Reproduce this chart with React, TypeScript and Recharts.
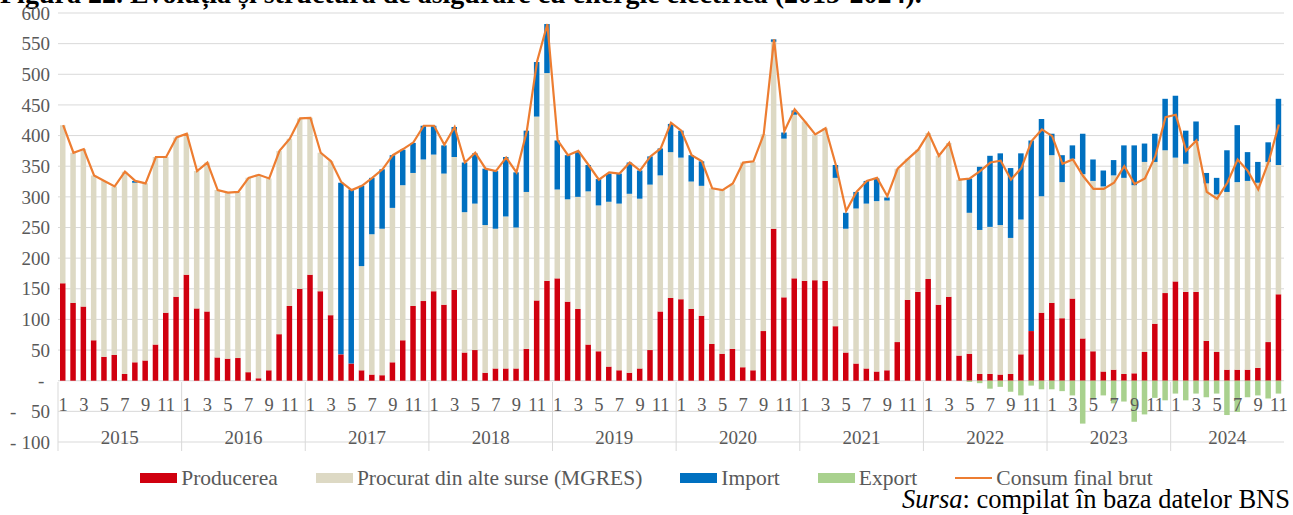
import React from "react";
import {
  ComposedChart,
  Bar,
  Line,
  XAxis,
  YAxis,
  CartesianGrid,
} from "recharts";

const years = [2015, 2016, 2017, 2018, 2019, 2020, 2021, 2022, 2023, 2024];

// GWh / month (Jan 2015 .. Nov 2024)
const production = [
  159, 127, 121, 66, 39, 42, 11, 30, 33, 59, 111, 137,
  173, 118, 113, 38, 36, 37, 14, 4, 17, 76, 122, 150,
  173, 146, 107, 43, 28, 17, 10, 9, 30, 66, 122, 130,
  146, 124, 148, 46, 50, 13, 20, 20, 20, 52, 131, 163,
  167, 129, 117, 59, 48, 23, 17, 13, 20, 50, 113, 135,
  133, 117, 106, 60, 44, 52, 22, 17, 81, 248, 136, 167,
  163, 164, 163, 89, 46, 28, 20, 15, 17, 63, 132, 145,
  166, 124, 137, 41, 44, 11, 11, 10, 11, 43, 81, 111,
  127, 102, 134, 69, 48, 15, 18, 11, 12, 47, 93, 143,
  162, 145, 145, 65, 47, 18, 18, 18, 21, 63, 141,
];

const procurat = [
  258, 245, 257, 269, 287, 275, 330, 293, 289, 306, 254, 260,
  230, 224, 243, 273, 271, 271, 317, 332, 313, 299, 273, 278,
  256, 226, 251, 0, 0, 170, 229, 239, 252, 253, 217, 231,
  223, 214, 217, 229, 239, 241, 228, 248, 230, 256, 300, 339,
  145, 167, 183, 250, 238, 269, 272, 292, 277, 270, 222, 238,
  231, 208, 212, 254, 267, 268, 334, 340, 321, 305, 259, 267,
  260, 238, 249, 242, 202, 253, 269, 278, 277, 283, 230, 232,
  238, 243, 251, 287, 230, 235, 240, 244, 222, 220, 0, 190,
  241, 222, 228, 268, 278, 302, 317, 320, 307, 310, 264, 233,
  202, 209, 246, 257, 257, 290, 306, 308, 302, 294, 211,
];

const importData = [
  0, 0, 0, 0, 0, 0, 0, 3, 0, 0, 0, 0,
  0, 0, 0, 0, 0, 0, 0, 0, 0, 0, 0, 0,
  0, 0, 0, 280, 284, 131, 92, 97, 86, 58, 49, 55,
  47, 46, 49, 81, 82, 92, 94, 97, 90, 100, 89, 80,
  80, 72, 73, 43, 43, 46, 49, 51, 46, 46, 44, 46,
  44, 43, 40, 0, 0, 0, 0, 0, 0, 4, 10, 7,
  0, 0, 0, 21, 26, 27, 37, 37, 5, 0, 0, 0,
  0, 0, 0, 0, 56, 103, 116, 117, 114, 108, 311, 126,
  35, 44, 22, 66, 35, 26, 25, 53, 65, 30, 46, 84,
  101, 54, 32, 17, 27, 68, 93, 47, 34, 32, 108,
];

const exportData = [
  0, 0, 0, 0, 0, 0, 0, 0, 0, 0, 0, 0,
  0, 0, 0, 0, 0, 0, 0, 0, 0, 0, 0, 0,
  0, 0, 0, 0, 0, 0, 0, 0, 0, 0, 0, 0,
  0, 0, 0, 0, 0, 0, 0, 0, 0, 0, 0, 0,
  0, 0, 0, 0, 0, 0, 0, 0, 0, 0, 0, 0,
  0, 0, 0, 0, 0, 0, 0, 0, 0, 0, 0, 0,
  0, 0, 0, 0, 0, 0, 0, 0, 0, 0, 0, 0,
  0, 0, 0, 0, -2, -4, -13, -10, -18, -24, -8, -14,
  -14, -17, -24, -70, -29, -24, -37, -34, -67, -55, -28, -32,
  -21, -32, -21, -27, -21, -56, -51, -27, -24, -29, -21,
];

const consum = [
  417, 372, 378, 335, 326, 317, 341, 326, 322, 365, 365, 397,
  403, 342, 356, 311, 307, 308, 331, 336, 330, 375, 395, 428,
  429, 372, 358, 324, 311, 318, 331, 345, 368, 378, 389, 416,
  416, 385, 414, 356, 372, 346, 342, 364, 340, 407, 521, 582,
  392, 368, 375, 352, 328, 340, 338, 356, 343, 366, 379, 421,
  408, 368, 358, 314, 311, 322, 356, 358, 402, 557, 407, 443,
  423, 402, 412, 352, 277, 308, 326, 331, 301, 346, 362, 377,
  404, 367, 388, 328, 330, 342, 356, 359, 328, 347, 391, 410,
  399, 354, 361, 334, 313, 313, 323, 350, 321, 330, 366, 430,
  434, 375, 392, 308, 297, 323, 361, 342, 312, 357, 418,
];

const yTicks = [-100, -50, 0, 50, 100, 150, 200, 250, 300, 350, 400, 450, 500, 550, 600];

const N = production.length;
const data = production.map((p, i) => ({
  i,
  p,
  m: procurat[i],
  imp: importData[i],
  exp: exportData[i],
  c: consum[i],
}));

const PLOT_W = 1293 - 58 - 9;

const FONT = "'Liberation Serif', 'Times New Roman', serif";
const GREY = "#595959";
const GRID = "#d9d9d9";

const YTick = ({ x, y, payload }: any) => {
  const v = payload.value;
  if (v === 0)
    return (
      <text x={x - 12} y={y} dy="0.35em" textAnchor="start" fill={GREY} fontSize={19} fontFamily={FONT}>
        -
      </text>
    );
  if (v < 0)
    return (
      <g>
        <text x={10} y={y} dy="0.35em" fill={GREY} fontSize={19} fontFamily={FONT}>
          -
        </text>
        <text x={x} y={y} dy="0.35em" textAnchor="end" fill={GREY} fontSize={19} fontFamily={FONT}>
          {-v}
        </text>
      </g>
    );
  return (
    <text x={x} y={y} dy="0.35em" textAnchor="end" fill={GREY} fontSize={19} fontFamily={FONT}>
      {v}
    </text>
  );
};

// odd months only
const MonthTick = ({ x, y, payload }: any) => {
  const m = payload.value % 12;
  if (m % 2 !== 0) return <g />;
  return (
    <text x={x} y={y - 31} textAnchor="middle" fill={GREY} fontSize={18.5} fontFamily={FONT}>
      {m + 1}
    </text>
  );
};

// separator before each January + year label in the middle of its months
const YearTick = ({ x, y, payload }: any) => {
  const i = payload.value;
  if (i % 12 !== 0) return <g />;
  const band = PLOT_W / N;
  const n = Math.min(12, N - i);
  const left = x - band / 2;
  return (
    <g>
      <line x1={left} x2={left} y1={y - 61} y2={y + 8} stroke={GRID} strokeWidth={1} />
      <text x={left + (n * band) / 2} y={y + 1} textAnchor="middle" fill={GREY} fontSize={19} fontFamily={FONT}>
        {years[i / 12]}
      </text>
    </g>
  );
};

const legendItems = [
  { name: "Producerea", color: "#D0000F", kind: "bar" },
  { name: "Procurat din alte surse (MGRES)", color: "#DDD9C4", kind: "bar" },
  { name: "Import", color: "#0070C0", kind: "bar" },
  { name: "Export", color: "#A9D18E", kind: "bar" },
  { name: "Consum final brut", color: "#ED7D31", kind: "line" },
];

const ChartLegend = () => (
  <div
    style={{
      position: "absolute",
      left: 0,
      top: 467,
      width: 1293,
      display: "flex",
      justifyContent: "center",
      alignItems: "center",
      fontFamily: FONT,
      fontSize: 21.5,
      lineHeight: "22px",
      color: GREY,
    }}
  >
    {legendItems.map((it) => (
      <div key={it.name} style={{ display: "flex", alignItems: "center", margin: "0 19px" }}>
        <svg width={37} height={12} style={{ marginRight: 4 }}>
          {it.kind === "bar" ? (
            <rect x={0} y={1} width={37} height={10} fill={it.color} />
          ) : (
            <line x1={0} x2={37} y1={6} y2={6} stroke={it.color} strokeWidth={2.2} />
          )}
        </svg>
        <span>{it.name}</span>
      </div>
    ))}
  </div>
);

export default function App() {
  return (
    <div style={{ position: "absolute", left: 0, top: 0, width: 1293, height: 515, background: "#fff", overflow: "hidden" }}>
      <div
        style={{
          position: "absolute",
          left: 0,
          top: -16,
          fontFamily: FONT,
          fontWeight: "bold",
          fontSize: 28,
          lineHeight: "20px",
          whiteSpace: "nowrap",
          color: "#000",
        }}
      >
        Figura 22. Evoluția și structura de asigurare cu energie electrică (2015-2024).
      </div>
      <ComposedChart
        width={1293}
        height={515}
        data={data}
        margin={{ top: 13, right: 9, left: 0, bottom: 71 }}
        stackOffset="sign"
        barSize={5.5}
      >
        <CartesianGrid vertical={false} stroke={GRID} />
        <XAxis dataKey="i" hide height={0} />
        <YAxis
          domain={[-100, 600]}
          ticks={yTicks}
          interval={0}
          width={58}
          axisLine={false}
          tickLine={false}
          tick={<YTick />}
        />
        <Bar dataKey="p" name="Producerea" stackId="a" fill="#D0000F" isAnimationActive={false} />
        <Bar dataKey="m" name="Procurat din alte surse (MGRES)" stackId="a" fill="#DDD9C4" isAnimationActive={false} />
        <Bar dataKey="imp" name="Import" stackId="a" fill="#0070C0" isAnimationActive={false} />
        <Bar dataKey="exp" name="Export" stackId="a" fill="#A9D18E" isAnimationActive={false} />
        <Line
          dataKey="c"
          name="Consum final brut"
          type="linear"
          stroke="#ED7D31"
          strokeWidth={2.2}
          dot={false}
          isAnimationActive={false}
        />
        <XAxis
          xAxisId="mo"
          dataKey="i"
          interval={0}
          tick={<MonthTick />}
          axisLine={false}
          tickLine={false}
          tickSize={0}
          tickMargin={0}
          height={1}
        />
        <XAxis
          xAxisId="yr"
          dataKey="i"
          interval={0}
          tick={<YearTick />}
          axisLine={false}
          tickLine={false}
          tickSize={0}
          tickMargin={0}
          height={1}
        />
      </ComposedChart>
      <ChartLegend />
      <div
        style={{
          position: "absolute",
          right: 3,
          top: 489,
          fontFamily: FONT,
          fontSize: 26.5,
          lineHeight: "20px",
          color: "#000",
          whiteSpace: "nowrap",
        }}
      >
        <i>Sursa</i>: compilat în baza datelor BNS
      </div>
    </div>
  );
}
